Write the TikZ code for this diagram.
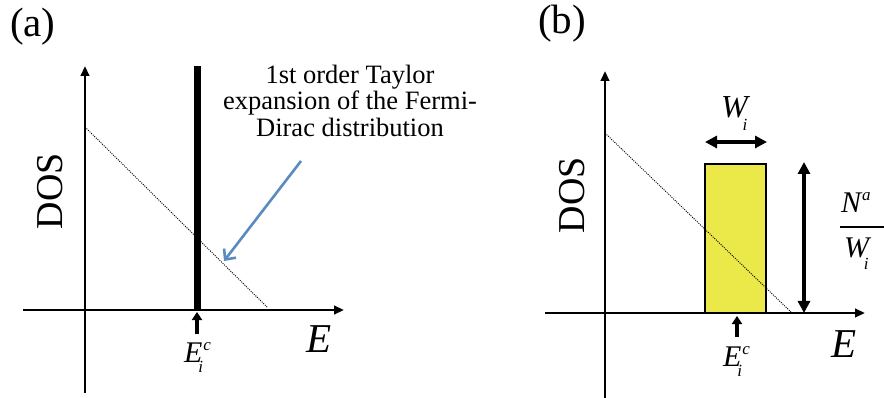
\documentclass[tikz,border=0pt]{standalone}
\usepackage{fontspec}
\setmainfont{LiberationSerif}[Extension=.ttf, UprightFont=*-Regular, ItalicFont=*-Italic, BoldFont=*-Bold, BoldItalicFont=*-BoldItalic]
\usetikzlibrary{arrows.meta}
\definecolor{callblue}{HTML}{5A8BC0}
\definecolor{boxyellow}{HTML}{EBE84A}
\newcommand\fsz[1]{\fontsize{#1}{#1}\selectfont}
\begin{document}
\begin{tikzpicture}[x=1pt,y=-1pt,
  lbl/.style={inner sep=0pt, outer sep=0pt},
  axisarrow/.style={line width=2.4pt, -{Triangle[length=10pt,width=8.5pt]}},
  fermiline/.style={line width=0.9pt, dash pattern=on 1pt off 1.2pt},
  levelbar/.style={line width=7pt},
  markarrow/.style={line width=3.2pt, -{Triangle[length=8pt,width=10pt]}},
  dblarrow/.style={line width=3.4pt, {Triangle[length=12pt,width=12pt]}-{Triangle[length=12pt,width=12pt]}},
  callout/.style={draw=callblue, line width=2.6pt, -{Straight Barb[length=8pt,width=15pt]}},
]
\useasboundingbox (0,0) rectangle (884,398);

% ---------------- panel (a) ----------------
\node[lbl, anchor=base west] (pa) at (10,37) {\fsz{41}(a)};

\coordinate (ay0) at (85,393);
\coordinate (ay1) at (85,66);
\coordinate (ax0) at (23,310);
\coordinate (ax1) at (344,310);
\coordinate (fa0) at (85,127);
\coordinate (fa1) at (268,308);
\coordinate (bar0) at (197,311);
\coordinate (bar1) at (197,66);
\coordinate (ma0) at (197,334);
\coordinate (ma1) at (197,312);

\draw[fermiline] (fa0) -- (fa1);
\draw[axisarrow] (ay0) -- (ay1);
\draw[axisarrow] (ax0) -- (ax1);
\draw[levelbar] (bar0) -- (bar1);
\draw[markarrow] (ma0) -- (ma1);

\node[lbl, rotate=90, anchor=center] (dosa) at (50,191) {\fsz{38}DOS};
\node[lbl, anchor=base west] (Ea) at (306,352) {\fsz{41}\itshape E};
\node[lbl, anchor=base west] (Eica) at (184,362)
  {\fsz{30}\itshape E\rlap{\kern1pt\raisebox{12pt}{\fsz{17}c}}\kern-4pt\raisebox{-10pt}{\fsz{17}i}};

\node[lbl, anchor=north, align=center, font=\fsz{26.5}] (taylor) at (350,65)
  {\fontsize{26.5}{32.5}\selectfont 1st order Taylor\\expansion of the Fermi-\\Dirac distribution};
\coordinate (ca0) at (301,161);
\coordinate (ca1) at (224,261);
\draw[callout] (ca0) -- (ca1);

% ---------------- panel (b) ----------------
\node[lbl, anchor=base west] (pb) at (538,34) {\fsz{41}(b)};

\coordinate (by0) at (605,398);
\coordinate (by1) at (605,71);
\coordinate (bx0) at (545,313);
\coordinate (bx1) at (865,313);
\coordinate (fb0) at (605,133);
\coordinate (fb1) at (791,312);

\draw[fill=boxyellow, draw=black, line width=1.2pt] (705,164) rectangle (766,313);
\draw[fermiline] (fb0) -- (fb1);
\draw[axisarrow] (by0) -- (by1);
\draw[axisarrow] (bx0) -- (bx1);

\coordinate (wa0) at (705,142);
\coordinate (wa1) at (767,142);
\draw[dblarrow] (wa0) -- (wa1);
\coordinate (ha0) at (804,162);
\coordinate (ha1) at (804,313);
\draw[dblarrow] (ha0) -- (ha1);

\coordinate (mb0) at (737,337);
\coordinate (mb1) at (737,316);
\draw[markarrow] (mb0) -- (mb1);

\node[lbl, rotate=90, anchor=center] (dosb) at (572,195) {\fsz{38}DOS};
\node[lbl, anchor=base west] (Eb) at (831,357) {\fsz{41}\itshape E};
\node[lbl, anchor=base west] (Eicb) at (723,366)
  {\fsz{30}\itshape E\rlap{\kern1pt\raisebox{12pt}{\fsz{17}c}}\kern-4pt\raisebox{-10pt}{\fsz{17}i}};
\node[lbl, anchor=base west] (Wi) at (721,118)
  {\fsz{32}\itshape W\kern-5pt\raisebox{-13pt}{\fsz{17}i}};

\node[lbl, anchor=base west] (Na) at (841,213)
  {\fsz{30}\itshape N\kern1pt\raisebox{12pt}{\fsz{17}a}};
\coordinate (fr0) at (840,227);
\coordinate (fr1) at (884,227);
\draw[line width=2pt] (fr0) -- (fr1);
\node[lbl, anchor=base west] (Wd) at (844,258)
  {\fsz{30}\itshape W\kern-5pt\raisebox{-12pt}{\fsz{17}i}};
\end{tikzpicture}
\end{document}
